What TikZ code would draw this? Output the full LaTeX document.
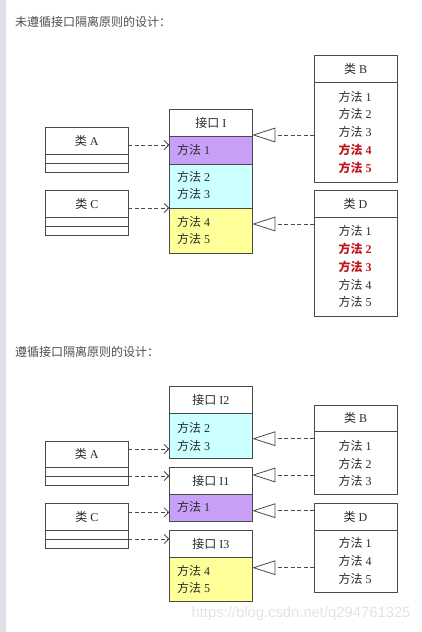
\documentclass[tikz,border=0pt]{standalone}
\usepackage{fontspec}
\setmainfont{Liberation Serif}
\newfontfamily\cjk{Noto Sans CJK SC}
\newfontfamily\wmfont{Liberation Sans}
\usetikzlibrary{arrows.meta}
\definecolor{bordc}{HTML}{4A4A4A}
\definecolor{txtc}{HTML}{2A2A2A}
\definecolor{purp}{HTML}{C9A0F7}
\definecolor{cyanc}{HTML}{CCFFFF}
\definecolor{yelc}{HTML}{FFFF99}
\definecolor{redc}{HTML}{C0161B}
\definecolor{barc}{HTML}{DDE0E7}
\definecolor{titlec}{HTML}{4D4D4D}
\definecolor{wmc}{HTML}{E3E3E3}
\newcommand\mfa[1]{{\cjk 方法}\ #1}
\newcommand\rfa[1]{\textcolor{redc}{\bfseries{\cjk 方法}\ #1}}
\begin{document}
\begin{tikzpicture}[x=1pt,y=-1pt,
  cell/.style={draw=bordc,line width=0.9pt,inner sep=0pt,outer sep=0pt,anchor=north west,
    minimum width=83pt,text=txtc,font=\fontsize{12}{14}\selectfont},
  mtext/.style={inner sep=0pt,text=txtc,font=\fontsize{12}{14}\selectfont},
  dep/.style={draw=bordc,line width=0.8pt,dash pattern=on 4pt off 2.5pt,
    -{Straight Barb[length=4.5pt,width=9pt,line width=0.8pt]}},
  real/.style={draw=bordc,line width=0.8pt,dash pattern=on 4pt off 2.5pt,
    -{Triangle[open,length=23pt,width=14.6pt,fill=white,line width=0.8pt]}},
  ttl/.style={anchor=west,inner sep=0pt,text=titlec,font=\fontsize{12}{14}\selectfont\cjk}]
\useasboundingbox (0,0) rectangle (421,632);
\fill[barc] (0,0) rectangle (6,632);

% ===== Top section =====
\node[ttl] (t1) at (15,22) {未遵循接口隔离原则的设计：};

% class A
\node[cell,minimum height=26.7pt] (Ah) at (45.3,127.3) {{\cjk 类} A};
\node[cell,minimum height=9.3pt] (Ar1) at (Ah.south west) {};
\node[cell,minimum height=9pt] (Ar2) at (Ar1.south west) {};
% class C
\node[cell,minimum height=26.7pt] (Ch) at (45.3,190.3) {{\cjk 类} C};
\node[cell,minimum height=9pt] (Cr1) at (Ch.south west) {};
\node[cell,minimum height=9.3pt] (Cr2) at (Cr1.south west) {};
% interface I
\node[cell,minimum height=27pt] (Ih) at (169.3,109) {{\cjk 接口} I};
\node[cell,minimum height=28pt,fill=purp] (Im1) at (Ih.south west) {};
\node[cell,minimum height=44.7pt,fill=cyanc] (Im23) at (Im1.south west) {};
\node[cell,minimum height=44.6pt,fill=yelc] (Im45) at (Im23.south west) {};
\node[mtext,anchor=west] (Ia) at (177,149.7) {\mfa{1}};
\node[mtext,anchor=west] (Ib) at (177,177) {\mfa{2}};
\node[mtext,anchor=west] (Ic) at (177,194.3) {\mfa{3}};
\node[mtext,anchor=west] (Id) at (177,221.7) {\mfa{4}};
\node[mtext,anchor=west] (Ie) at (177,239) {\mfa{5}};
% class B
\node[cell,minimum height=26.6pt] (Bh) at (314,55.7) {{\cjk 类} B};
\node[cell,minimum height=99.7pt] (Bb) at (Bh.south west) {};
\node[mtext] (Ba) at (355,97) {\mfa{1}};
\node[mtext] (Bc) at (355,114.3) {\mfa{2}};
\node[mtext] (Bd) at (355,132.3) {\mfa{3}};
\node[mtext] (Be) at (355,150.3) {\rfa{4}};
\node[mtext] (Bf) at (355,167.7) {\rfa{5}};
% class D
\node[cell,minimum height=27pt] (Dh) at (314,190.3) {{\cjk 类} D};
\node[cell,minimum height=98.7pt] (Db) at (Dh.south west) {};
\node[mtext] (Da) at (355,231) {\mfa{1}};
\node[mtext] (Dc) at (355,249.3) {\rfa{2}};
\node[mtext] (Dd) at (355,266.7) {\rfa{3}};
\node[mtext] (De) at (355,285) {\mfa{4}};
\node[mtext] (Df) at (355,301.7) {\mfa{5}};

\draw[dep] (Ah.east |- 0,145) -- (Im1.west |- 0,145);
\draw[dep] (Ch.east |- 0,208) -- (Im23.west |- 0,208);
\draw[real] (Bb.west |- 0,135) -- (Ih.east |- 0,135);
\draw[real] (Db.west |- 0,224) -- (Im45.east |- 0,224);

% ===== Bottom section =====
\node[ttl] (t2) at (15,352) {遵循接口隔离原则的设计：};

% I2
\node[cell,minimum height=26.6pt] (I2h) at (169.3,386.7) {{\cjk 接口} I2};
\node[cell,minimum height=45pt,fill=cyanc] (I2b) at (I2h.south west) {};
\node[mtext,anchor=west] (I2a) at (177,428.3) {\mfa{2}};
\node[mtext,anchor=west] (I2c) at (177,445.7) {\mfa{3}};
% I1
\node[cell,minimum height=26.6pt] (I1h) at (169.3,467.7) {{\cjk 接口} I1};
\node[cell,minimum height=26.7pt,fill=purp] (I1b) at (I1h.south west) {};
\node[mtext,anchor=west] (I1a) at (177,507.3) {\mfa{1}};
% I3
\node[cell,minimum height=27pt] (I3h) at (169.3,530.3) {{\cjk 接口} I3};
\node[cell,minimum height=44.4pt,fill=yelc] (I3b) at (I3h.south west) {};
\node[mtext,anchor=west] (I3a) at (177,570.7) {\mfa{4}};
\node[mtext,anchor=west] (I3c) at (177,588.3) {\mfa{5}};
% class A
\node[cell,minimum height=26.3pt] (A2h) at (45.3,441) {{\cjk 类} A};
\node[cell,minimum height=9.4pt] (A2r1) at (A2h.south west) {};
\node[cell,minimum height=9pt] (A2r2) at (A2r1.south west) {};
% class C
\node[cell,minimum height=26.6pt] (C2h) at (45.3,503.7) {{\cjk 类} C};
\node[cell,minimum height=9pt] (C2r1) at (C2h.south west) {};
\node[cell,minimum height=9.4pt] (C2r2) at (C2r1.south west) {};
% class B
\node[cell,minimum height=26.3pt] (B2h) at (314,405) {{\cjk 类} B};
\node[cell,minimum height=63pt] (B2b) at (B2h.south west) {};
\node[mtext] (B2a) at (355,445.7) {\mfa{1}};
\node[mtext] (B2c) at (355,463.7) {\mfa{2}};
\node[mtext] (B2d) at (355,480.7) {\mfa{3}};
% class D
\node[cell,minimum height=27pt] (D2h) at (314,503.7) {{\cjk 类} D};
\node[cell,minimum height=61.6pt] (D2b) at (D2h.south west) {};
\node[mtext] (D2a) at (355,543.3) {\mfa{1}};
\node[mtext] (D2c) at (355,561.3) {\mfa{4}};
\node[mtext] (D2d) at (355,578.7) {\mfa{5}};

\draw[dep] (A2h.east |- 0,449) -- (I2b.west |- 0,449);
\draw[dep] (A2r1.east |- 0,476) -- (I1h.west |- 0,476);
\draw[dep] (C2h.east |- 0,512.3) -- (I1b.west |- 0,512.3);
\draw[dep] (C2r1.east |- 0,539) -- (I3h.west |- 0,539);
\draw[real] (B2h.west |- 0,438.7) -- (I2b.east |- 0,438.7);
\draw[real] (B2b.west |- 0,475) -- (I1h.east |- 0,475);
\draw[real] (D2h.west |- 0,510.7) -- (I1b.east |- 0,510.7);
\draw[real] (D2b.west |- 0,567.7) -- (I3b.east |- 0,567.7);

\node[anchor=east,inner sep=0pt,text=wmc,font=\fontsize{14.8}{16}\selectfont\wmfont] (wm) at (410.7,613.3) {https://blog.csdn.net/q294761325};
\end{tikzpicture}
\end{document}
